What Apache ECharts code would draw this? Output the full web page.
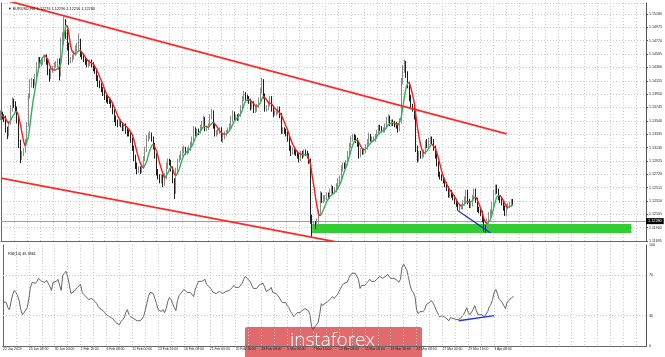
<!DOCTYPE html>
<html><head><meta charset="utf-8">
<script src="https://cdn.jsdelivr.net/npm/echarts@6/dist/echarts.min.js"></script>
<style>html,body{margin:0;padding:0;background:#fff;overflow:hidden}#c{width:665px;height:357px}</style>
</head><body><div id="c"></div>
<script>
// EURUSD H4 candles, values in pips above 1.1000: [open, close, low, high]
const candles = [
[362,365,355,370],[365,360,356,368],
[360,358,352,364],[358,340,336,362],[340,332,326,345],[332,350,330,354],[350,372,348,378],[372,385,368,390],
[385,380,374,388],[380,372,368,384],[372,355,350,376],[355,320,312,360],[320,298,289,325],[298,303,294,308],
[303,308,300,312],[308,322,305,326],[322,348,318,352],[348,392,345,396],[392,410,388,418],[410,415,405,420],
[415,410,404,418],[410,420,408,426],[420,438,418,444],[438,448,434,452],[448,440,436,452],[440,445,438,450],
[445,448,440,452],[448,452,444,456],[452,446,440,456],[446,430,424,450],[430,420,414,434],[420,432,418,436],
[432,435,428,438],[435,440,432,444],[440,442,436,446],[442,445,436,450],[445,425,416,450],[425,478,422,482],
[478,482,470,490],[482,505,478,514],[505,490,480,510],[490,470,462,495],[470,446,440,474],[446,448,442,452],
[448,452,444,456],[452,458,448,462],[458,465,454,470],[465,470,460,474],[470,478,462,488],[478,456,452,480],
[456,452,448,460],[452,448,444,456],[448,445,440,452],[445,440,436,450],[440,442,436,446],[442,444,438,448],
[444,440,436,448],[440,436,430,444],[436,430,426,440],[430,420,415,434],[420,412,406,424],[412,408,404,416],
[408,402,398,412],[402,398,392,406],[398,392,386,402],[392,388,382,396],[388,385,380,392],[385,384,380,390],
[384,378,374,388],[378,368,364,382],[368,358,352,372],[358,352,346,362],[352,350,344,356],[350,352,346,356],
[352,348,344,356],[348,342,338,352],[342,346,338,350],[346,340,334,350],[340,336,330,344],[336,334,330,340],
[334,325,320,338],[325,312,308,328],[312,298,292,316],[298,285,280,302],[285,278,272,290],[278,280,274,284],
[280,276,272,284],[276,282,274,286],[282,295,280,300],[295,310,292,314],[310,326,306,332],[326,330,322,336],
[330,332,326,338],[332,326,322,336],[326,315,310,330],[315,300,296,320],[300,275,270,304],[275,268,264,280],
[268,262,258,272],[262,268,258,272],[268,258,252,272],[258,268,254,274],[268,285,264,290],[285,292,280,296],
[292,290,286,296],[290,280,276,294],[280,262,258,284],[262,245,234,266],[245,278,242,282],[278,292,274,296],
[292,298,290,302],[298,304,294,308],[304,310,300,314],[310,310,304,316],[310,306,302,314],[306,308,302,312],
[308,312,304,316],[312,318,308,322],[318,326,314,330],[326,340,322,346],[340,335,330,344],[335,338,332,342],
[338,336,332,342],[336,344,334,348],[344,350,340,354],[350,356,346,362],[356,342,338,360],[342,342,338,346],
[342,346,340,350],[346,360,344,364],[360,368,356,372],[368,346,342,370],[346,334,330,350],[334,336,330,340],
[336,338,332,342],[338,340,334,344],[340,326,322,344],[326,330,320,334],[330,334,326,338],[334,336,330,340],
[336,340,334,344],[340,346,338,350],[346,356,342,362],[356,364,352,370],[364,358,354,368],[358,360,354,364],
[360,358,354,364],[358,362,354,366],[362,374,360,378],[374,388,370,392],[388,394,384,400],[394,390,386,398],
[390,388,384,394],[388,384,380,392],[384,376,370,388],[376,380,372,384],[380,370,366,384],[370,372,366,376],
[372,376,368,380],[376,386,374,390],[386,400,384,404],[400,416,396,420],[416,392,388,418],[392,372,368,396],
[372,374,368,378],[374,380,370,384],[380,388,376,392],[388,372,368,392],[372,366,360,376],[366,366,362,370],
[366,368,362,372],[368,372,364,376],[372,362,358,376],[362,338,334,366],[338,340,334,344],[340,338,334,344],
[338,334,330,342],[334,326,322,338],[326,312,308,330],[312,306,300,316],[306,310,302,314],[310,306,302,314],
[306,305,300,310],[305,300,296,308],[300,296,290,304],[296,304,292,308],[304,300,296,308],[300,306,298,310],
[306,304,300,310],[304,300,296,308],[300,292,288,304],[292,205,196,296],[205,192,176,210],[192,196,188,200],
[196,194,188,200],[194,200,190,204],[200,214,196,218],[214,240,210,246],[240,232,228,244],[232,236,228,240],
[236,236,230,240],[236,240,232,244],[240,238,234,244],[238,246,234,250],[246,250,242,256],[250,246,242,254],
[246,248,242,252],[248,255,244,258],[255,262,250,266],[262,266,256,270],[266,280,262,286],[280,286,276,290],
[286,284,280,290],[284,290,280,294],[290,304,286,308],[304,316,300,320],[316,326,312,330],[326,330,322,334],
[330,328,324,334],[328,324,320,332],[324,318,314,328],[318,302,296,322],[302,308,298,312],[308,306,302,312],
[306,308,302,312],[308,314,304,318],[314,322,310,326],[322,330,318,336],[330,326,322,334],[326,326,322,330],
[326,326,322,330],[326,330,322,334],[330,336,326,340],[336,344,332,348],[344,342,338,348],[342,340,336,346],
[340,340,336,344],[340,346,336,350],[346,354,342,360],[354,360,350,364],[360,350,346,362],[350,352,346,356],
[352,350,346,356],[350,348,344,354],[348,346,342,352],[346,342,336,350],[342,352,338,358],[352,415,350,420],
[415,432,410,440],[432,442,428,448],[442,426,420,446],[426,410,404,430],[410,390,384,414],[390,376,372,394],
[376,372,368,380],[372,360,356,376],[360,312,306,364],[312,296,290,316],[296,304,292,308],[304,300,296,308],
[300,302,296,306],[302,306,298,310],[306,318,302,324],[318,316,312,326],[316,322,312,328],[322,326,318,330],
[326,322,318,330],[322,312,308,326],[312,300,296,316],[300,288,284,304],[288,272,268,292],[272,268,264,276],
[268,266,262,272],[266,262,258,270],[262,256,252,266],[256,250,246,260],[250,240,236,254],[240,244,236,248],
[244,240,236,248],[240,236,232,244],[236,230,226,240],[230,226,222,234],[226,220,216,230],[220,222,216,226],
[222,222,218,226],[222,228,218,232],[228,234,224,238],[234,244,230,248],[244,230,226,248],[230,224,220,234],
[224,226,220,230],[226,236,222,240],[236,246,232,250],[246,232,228,250],[232,218,214,236],[218,216,212,222],
[216,212,208,220],[212,202,198,216],[202,190,184,206],[190,186,182,194],[186,200,184,204],[200,210,196,214],
[210,214,206,218],[214,226,210,230],[226,244,222,248],[244,252,240,256],[252,246,242,256],[246,236,232,250],
[236,232,228,240],[232,228,224,236],[228,220,216,232],[220,212,208,224],[212,222,208,226],[222,224,218,228],
[224,226,220,230],[226,230,222,234],[230,228,224,234]
];
// moving average (pips above 1.1000)
const maLine = [
362,362,
361,357,352,350,353,360, 364,368,368,360,348,335, 322,315,318,330,350,370,
388,402,418,432,442,448, 452,455,454,448,440,434, 432,431,432,434,433,442, 465,485,500,500,485,468, 460,457,456,458,462,462,
460,456,452,448,445,444, 443,441,438,433,427,421, 415,409,402,396,392,389, 385,380,374,368,362,357, 354,350,348,346,344,341,
338,333,325,315,305,296, 289,284,282,285,292,302, 310,316,318,316,308,298, 288,280,272,266,268,274, 280,284,280,272,270,274,
280,288,296,302,305,307, 309,312,316,322,328,333, 336,338,341,345,346,345, 344,346,350,352,350,346, 342,338,335,334,333,334,
336,339,343,349,354,357, 359,361,365,371,379,385, 387,387,385,383,380,377, 376,377,381,388,392,390, 386,382,381,380,377,373,
370,369,368,363,357,351, 345,339,331,324,318,313, 309,306,304,303,302,302, 302,302,300,287,270,255, 238,222,210,208,212,218,
224,230,234,238,241,242, 244,247,251,256,262,270, 277,283,291,300,309,317, 322,325,325,320,315,311, 309,310,313,317,320,322,
324,326,330,334,337,338, 339,341,344,348,350,351, 351,350,349,347,347,360, 376,392,405,412,412,404, 394,382,362,344,328,316,
308,304,305,308,312,316, 318,316,312,305,296,286, 276,268,262,257,252,248, 245,241,237,233,228,225, 223,224,226,230,231,229,
229,231,236,237,232,226, 220,212,204,198,196,198, 202,210,220,230,238,240, 240,237,232,226,222,221, 222,224,226
];
// RSI(14)
const rsi14 = [
44,43,
43,38,36,44,51,55, 53,50,45,36,31,33, 34,38,47,58,63,64,
62,64,67,68,64,64, 63,65,66,59,55,63, 63,64,66,67,55,70, 71,74,69,61,52,52, 54,56,58,59,61,53,
51,50,48,46,47,47, 46,44,42,39,37,36, 35,33,31,30,29,29, 27,25,23,22,21,24, 26,28,33,36,31,29,
28,27,26,25,24,25, 26,29,35,42,49,53, 54,52,47,42,36,35, 34,36,33,37,44,48, 46,42,38,35,45,50,
52,54,56,55,53,52, 53,52,49,56,60,64, 63,64,65,66,61,60, 58,56,53,54,52,53, 54,55,52,53,54,54,
55,56,58,60,58,58, 58,59,62,66,69,67, 66,64,60,57,56,57, 58,61,60,62,58,54, 55,56,58,53,52,52,
50,48,45,43,44,43, 40,38,34,32,29,31, 33,34,33,35,34,37, 36,35,31,19,16,19, 19,23,31,42,40,42,
42,44,43,47,49,47, 48,51,54,55,60,62, 61,63,67,70,72,73, 72,69,66,57,60,59, 60,62,64,66,64,64,
64,65,67,69,68,67, 67,69,71,72,67,68, 67,66,65,63,66,78, 81,82,75,68,60,55, 53,49,36,32,34,33,
34,36,41,40,43,45, 43,40,36,33,29,28, 30,29,28,27,25,28, 27,27,26,26,25,27, 28,31,34,38,33,31,
32,36,40,35,31,30, 31,30,29,28,34,39, 41,46,53,56,52,47, 45,43,40,37,43,45, 46,48,49
];
const timeLabels = ['22 Jan 2019','25 Jan 08:00','30 Jan 00:00','1 Feb 16:00','6 Feb 08:00','11 Feb 00:00','13 Feb 16:00','18 Feb 08:00','21 Feb 00:00','25 Feb 16:00','28 Feb 08:00','5 Mar 00:00','7 Mar 16:00','12 Mar 08:00','15 Mar 00:00','19 Mar 16:00','22 Mar 08:00','27 Mar 00:00','29 Mar 16:00','3 Apr 08:00'];
const rsiLevels = [30, 70];
const priceTickStart = 1.11695, priceTickStep = 0.00205;
// chart objects: [bar index, price]
const channelUpper = [[0, 1.1541], [312, 1.13338]];
const channelLower = [[0, 1.12662], [212, 1.11657]];
const supportZone = {from: 192, to: 389, top: 1.11956, bottom: 1.11818};
const priceDivergence = [[282, 1.1216], [302, 1.1182]];
const rsiDivergence = [[282, 25], [304, 30]];
const lastPrice = 1.12280;
const header = '\u25BC EURUSD,H4  1.12276 1.12296 1.12256 1.12280';
const rsiHeader = 'RSI(14) 49.3861';

const SLOTS = 399;
const toP = v => +(1.1 + v / 10000).toFixed(5);
const cats = Array.from({length: SLOTS}, (_, k) => (k % 16 === 0 && timeLabels[k / 16]) ? timeLabels[k / 16] : '');
const candleData = candles.map(c => [toP(c[0]), toP(c[1]), toP(c[2]), toP(c[3])]);
const maGreen = new Array(maLine.length).fill(null), maRed = new Array(maLine.length).fill(null);
for (let i = 0; i < maLine.length - 1; i++) {
  const arr = maLine[i + 1] >= maLine[i] ? maGreen : maRed;
  arr[i] = toP(maLine[i]); arr[i + 1] = toP(maLine[i + 1]);
}
const FONT = 'Liberation Sans';
const grid = {color: '#c9c9c9', type: [1, 2], width: 1};
const chart = echarts.init(document.getElementById('c'), null, {renderer: 'canvas'});
chart.setOption({
  animation: false,
  backgroundColor: '#ffffff',
  title: [
    {text: header, left: 3, top: 2, textStyle: {fontSize: 3.8, fontWeight: 'normal', color: '#111', fontFamily: FONT}},
    {text: rsiHeader, left: 3, top: 247, textStyle: {fontSize: 3.8, fontWeight: 'normal', color: '#111', fontFamily: FONT}}
  ],
  grid: [
    {left: 1, top: 3, width: 645, height: 238},
    {left: 1, top: 245, width: 645, height: 101}
  ],
  xAxis: [
    {type: 'category', gridIndex: 0, data: cats, boundaryGap: false,
     axisLine: {show: true, lineStyle: {color: '#666', width: 1}}, axisTick: {show: false}, axisLabel: {show: false},
     splitLine: {show: true, interval: k => k % 8 === 0, lineStyle: grid}},
    {type: 'category', gridIndex: 1, data: cats, boundaryGap: false,
     axisLine: {show: true, lineStyle: {color: '#555', width: 1}}, axisTick: {show: false},
     axisLabel: {show: true, interval: k => k % 16 === 0, align: 'left', margin: 2, fontSize: 3.4, color: '#222', fontFamily: FONT},
     splitLine: {show: true, interval: k => k % 8 === 0, lineStyle: grid}},
    {type: 'category', gridIndex: 1, data: cats, position: 'top', boundaryGap: false,
     axisLine: {show: true, lineStyle: {color: '#666', width: 1}}, axisTick: {show: false}, axisLabel: {show: false}, splitLine: {show: false}}
  ],
  yAxis: [
    {type: 'value', gridIndex: 0, position: 'right', min: priceTickStart, max: 1.15349, interval: priceTickStep, scale: true,
     axisLine: {show: true, lineStyle: {color: '#555', width: 1}}, axisTick: {show: true, length: 2, lineStyle: {color: '#555'}},
     axisLabel: {show: true, showMaxLabel: false, margin: 3, fontSize: 3.6, color: '#222', fontFamily: FONT, formatter: v => v.toFixed(5)},
     splitLine: {show: true, lineStyle: grid}},
    {type: 'value', gridIndex: 1, position: 'right', min: 0, max: 100, interval: 10,
     axisLine: {show: true, lineStyle: {color: '#555', width: 1}}, axisTick: {show: false},
     axisLabel: {show: true, margin: 3, fontSize: 3.6, color: '#222', fontFamily: FONT,
       formatter: v => (v === 0 || v === 100 || rsiLevels.indexOf(v) >= 0) ? String(v) : ''},
     splitLine: {show: false}},
    {type: 'value', gridIndex: 0, position: 'left', min: priceTickStart, max: 1.15349,
     axisLine: {show: true, lineStyle: {color: '#666'}}, axisTick: {show: false}, axisLabel: {show: false}, splitLine: {show: false}},
    {type: 'value', gridIndex: 1, position: 'left', min: 0, max: 100,
     axisLine: {show: true, lineStyle: {color: '#666'}}, axisTick: {show: false}, axisLabel: {show: false}, splitLine: {show: false}}
  ],
  series: [
    {type: 'candlestick', xAxisIndex: 0, yAxisIndex: 0, data: candleData, barWidth: 1, z: 3,
     itemStyle: {color: '#8c8c8c', color0: '#1e1e1e', borderColor: '#8c8c8c', borderColor0: '#1e1e1e', borderWidth: 1},
     markArea: {silent: true, z: 1, itemStyle: {color: '#33cc33', opacity: 1},
       data: [[{xAxis: supportZone.from, yAxis: supportZone.top}, {xAxis: supportZone.to, yAxis: supportZone.bottom}]]},
     markLine: {silent: true, symbol: 'none', z: 2,
       lineStyle: {color: '#a0a0a0', type: 'solid', width: 1},
       label: {show: true, position: 'end', distance: 0, formatter: lastPrice.toFixed(5), backgroundColor: '#000', color: '#fff',
         fontSize: 3.8, padding: [1, 2, 1, 2], fontFamily: FONT},
       data: [{yAxis: lastPrice}]}},
    {type: 'line', xAxisIndex: 0, yAxisIndex: 0, data: maGreen, showSymbol: false, connectNulls: false, z: 4,
     lineStyle: {color: '#34b05a', width: 1.4}},
    {type: 'line', xAxisIndex: 0, yAxisIndex: 0, data: maRed, showSymbol: false, connectNulls: false, z: 4,
     lineStyle: {color: '#ff1a1a', width: 1.4}},
    {type: 'line', xAxisIndex: 0, yAxisIndex: 0, data: channelUpper, showSymbol: false, z: 5, clip: true,
     lineStyle: {color: '#ff2a2a', width: 1.8}},
    {type: 'line', xAxisIndex: 0, yAxisIndex: 0, data: channelLower, showSymbol: false, z: 5, clip: true,
     lineStyle: {color: '#ff2a2a', width: 1.8}},
    {type: 'line', xAxisIndex: 0, yAxisIndex: 0, data: priceDivergence, showSymbol: false, z: 6,
     lineStyle: {color: '#2233dd', width: 1.3}},
    {type: 'line', xAxisIndex: 1, yAxisIndex: 1, data: rsi14, showSymbol: false, z: 3,
     lineStyle: {color: '#555', width: 0.9},
     markLine: {silent: true, symbol: 'none', label: {show: false}, lineStyle: {color: '#c9c9c9', type: [1, 2], width: 1},
       data: rsiLevels.map(v => ({yAxis: v}))}},
    {type: 'line', xAxisIndex: 1, yAxisIndex: 1, data: rsiDivergence, showSymbol: false, z: 6,
     lineStyle: {color: '#2233dd', width: 1.3}}
  ],
  graphic: [
    {type: 'group', left: 245, top: 327, z: 100, children: [
      {type: 'rect', shape: {x: 0, y: 0, width: 177, height: 32, r: 2}, style: {fill: '#e06a6c'}},
      {type: 'text', x: 45, y: 4, style: {text: 'instaforex', fill: '#ffffff', fontSize: 19, fontFamily: 'Open Sans', fontWeight: 300}}
    ]}
  ]
});
</script>
</body></html>
